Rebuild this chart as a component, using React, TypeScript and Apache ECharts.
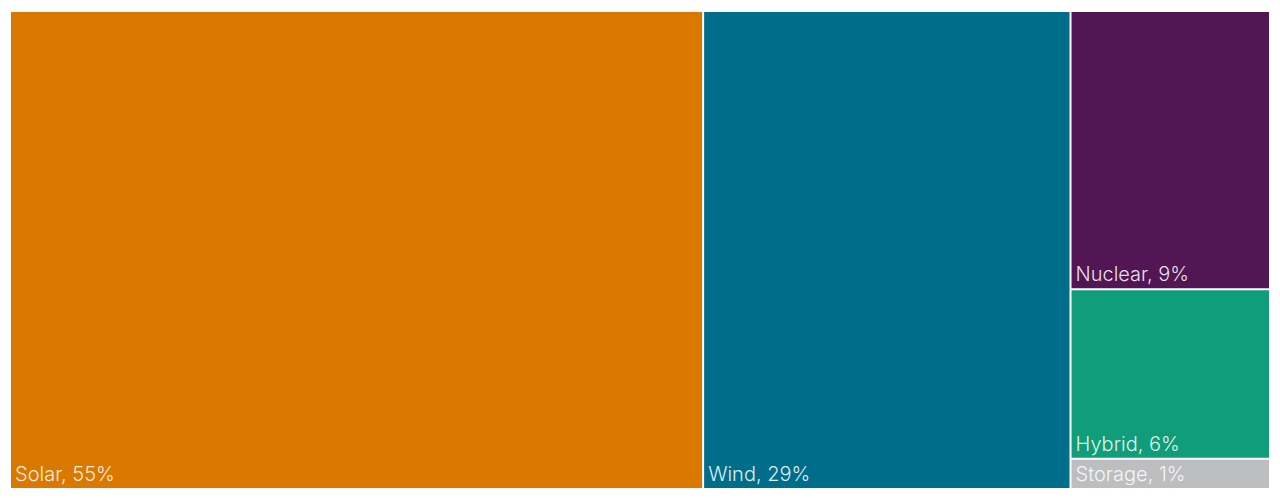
import React, { useEffect, useRef } from "react";
import * as echarts from "echarts";

const categories = ["Solar", "Wind", "Nuclear", "Hybrid", "Storage"];
const shares = [54.9, 29.1, 9.2, 5.6, 1.0];
const shareLabels = ["55%", "29%", "9%", "6%", "1%"];
const colors = ["#DB7800", "#006E8A", "#521654", "#109E7A", "#BDBEBF"];

export default function App() {
  const ref = useRef<HTMLDivElement>(null);
  useEffect(() => {
    if (!ref.current) return;
    const chart = echarts.init(ref.current, undefined, { renderer: "svg" });
    chart.setOption({
      animation: false,
      series: [
        {
          type: "treemap",
          left: 11,
          top: 12,
          width: 1258,
          height: 476,
          roam: false,
          nodeClick: false,
          breadcrumb: { show: false },
          sort: "desc",
          levels: [
            { itemStyle: { gapWidth: 2, borderWidth: 0, borderColor: "#fff" } },
          ],
          label: {
            show: true,
            position: "insideBottomLeft",
            distance: 4,
            padding: 0,
            color: "rgba(255,255,255,0.88)",
            fontFamily: "Inter, 'Liberation Sans', sans-serif",
            fontSize: 20,
            fontWeight: 300,
            formatter: (p: any) => p.data.label,
          },
          upperLabel: { show: false },
          itemStyle: { borderWidth: 0, gapWidth: 2 },
          data: categories.map((c, i) => ({
            name: c,
            value: shares[i],
            label: `${c}, ${shareLabels[i]}`,
            itemStyle: { color: colors[i] },
          })),
        },
      ],
    });
    return () => chart.dispose();
  }, []);
  return (
    <div
      ref={ref}
      style={{ position: "fixed", left: 0, top: 0, width: 1280, height: 498, background: "#fff" }}
    />
  );
}
